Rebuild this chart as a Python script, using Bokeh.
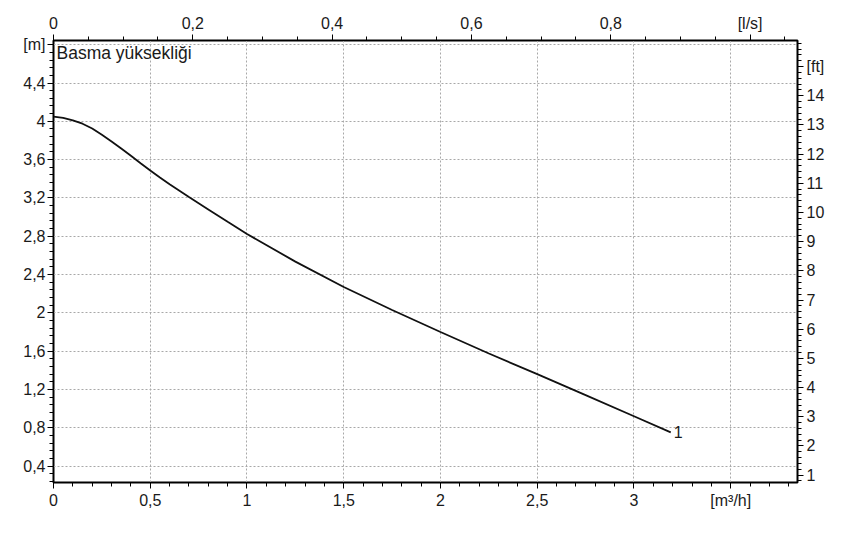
import numpy as np
from bokeh.plotting import figure
from bokeh.models import (LinearAxis, Range1d, FixedTicker, Label)
from bokeh.embed import file_html
from bokeh.resources import INLINE

# ---- data ----
flow_m3h = [0.0, 0.05, 0.1, 0.15, 0.2, 0.25, 0.3, 0.35, 0.4, 0.45, 0.5, 0.55,
            0.6, 0.7, 0.8, 0.9, 1.0, 1.25, 1.5, 1.75, 2.0, 2.25, 2.5, 2.75,
            3.0, 3.19]
head_m = [4.05, 4.035, 4.01, 3.975, 3.925, 3.86, 3.79, 3.716, 3.64, 3.563,
          3.487, 3.413, 3.342, 3.21, 3.08, 2.95, 2.823, 2.535, 2.27, 2.03,
          1.80, 1.575, 1.36, 1.14, 0.92, 0.752]
curve_name = "1"
chart_title = "Basma yüksekliği"

x_ticks = [0.0, 0.5, 1.0, 1.5, 2.0, 2.5, 3.0, 3.5]
x_labels = ["0", "0,5", "1", "1,5", "2", "2,5", "3", "[m³/h]"]
ls_ticks = [0.0, 0.2, 0.4, 0.6, 0.8, 1.0]
ls_labels = ["0", "0,2", "0,4", "0,6", "0,8", "[l/s]"]
y_ticks = [0.4, 0.8, 1.2, 1.6, 2.0, 2.4, 2.8, 3.2, 3.6, 4.0, 4.4, 4.8]
y_labels = ["0,4", "0,8", "1,2", "1,6", "2", "2,4", "2,8", "3,2", "3,6", "4", "4,4", "[m]"]
ft_ticks = [1, 2, 3, 4, 5, 6, 7, 8, 9, 10, 11, 12, 13, 14, 15]
ft_labels = ["1", "2", "3", "4", "5", "6", "7", "8", "9", "10", "11", "12", "13", "14", "[ft]"]

X_MAX = 3.845
Y_MIN, Y_MAX = 0.228, 4.844
M3H_PER_LS = 3.6
M_PER_FT = 0.3048

FONT = "Liberation Sans"
TXT = "#1a1a1a"

p = figure(width=847, height=530, output_backend="svg", toolbar_location=None,
           x_range=Range1d(0, X_MAX), y_range=Range1d(Y_MIN, Y_MAX),
           min_border_left=53, min_border_right=50, min_border_top=40,
           min_border_bottom=48, background_fill_color="white",
           border_fill_color="white")
p.outline_line_color = "black"
p.outline_line_width = 2

p.extra_x_ranges = {"ls": Range1d(0, X_MAX / M3H_PER_LS)}
p.extra_y_ranges = {"ft": Range1d(Y_MIN / M_PER_FT, Y_MAX / M_PER_FT)}


def style_axis(ax, ticks, labels, minor):
    ax.ticker = FixedTicker(ticks=ticks, minor_ticks=minor)
    ax.major_label_overrides = dict(zip(ticks, labels))
    ax.major_label_text_font = FONT
    ax.major_label_text_font_size = "16px"
    ax.major_label_text_color = TXT
    ax.major_tick_out = 6
    ax.major_tick_in = 0
    ax.minor_tick_out = 4
    ax.minor_tick_in = 0
    ax.major_tick_line_color = "black"
    ax.minor_tick_line_color = "black"
    ax.axis_line_color = "black"
    ax.axis_line_width = 1


# bottom axis m3/h
bx = p.xaxis[0]
style_axis(bx, x_ticks, x_labels, list(np.round(np.arange(0, 3.85, 0.1), 3)))
bx.major_label_standoff = 3

# left axis m
ly = p.yaxis[0]
style_axis(ly, y_ticks, y_labels, list(np.round(np.arange(0.24, 4.85, 0.08), 3)))
ly.major_label_standoff = 2

# top axis l/s
top = LinearAxis(x_range_name="ls")
style_axis(top, ls_ticks, ls_labels, list(np.round(np.arange(0, 1.07, 0.05), 3)))
top.major_label_standoff = 3
p.add_layout(top, "above")

# right axis ft
right = LinearAxis(y_range_name="ft")
style_axis(right, ft_ticks, ft_labels, list(np.round(np.arange(0.8, 15.9, 0.2), 3)))
right.major_label_standoff = 3
p.add_layout(right, "right")

# grid
p.xgrid.ticker = FixedTicker(ticks=x_ticks)
p.ygrid.ticker = FixedTicker(ticks=y_ticks)
for g in (p.xgrid[0], p.ygrid[0]):
    g.grid_line_color = "#a8a8a8"
    g.grid_line_dash = "2 2"
    g.grid_line_width = 1

# curve
p.line(flow_m3h, head_m, line_color="#111111", line_width=1.8)

p.add_layout(Label(x=flow_m3h[-1], y=head_m[-1], text=curve_name,
                   x_offset=3, text_baseline="middle", text_align="left",
                   text_font=FONT, text_font_size="16px", text_color=TXT))

p.add_layout(Label(x=0, y=Y_MAX, text=chart_title, x_offset=3, y_offset=-12,
                   text_baseline="middle", text_align="left",
                   text_font=FONT, text_font_size="17.5px", text_color=TXT))

open("out.html", "w").write(file_html(p, INLINE))
